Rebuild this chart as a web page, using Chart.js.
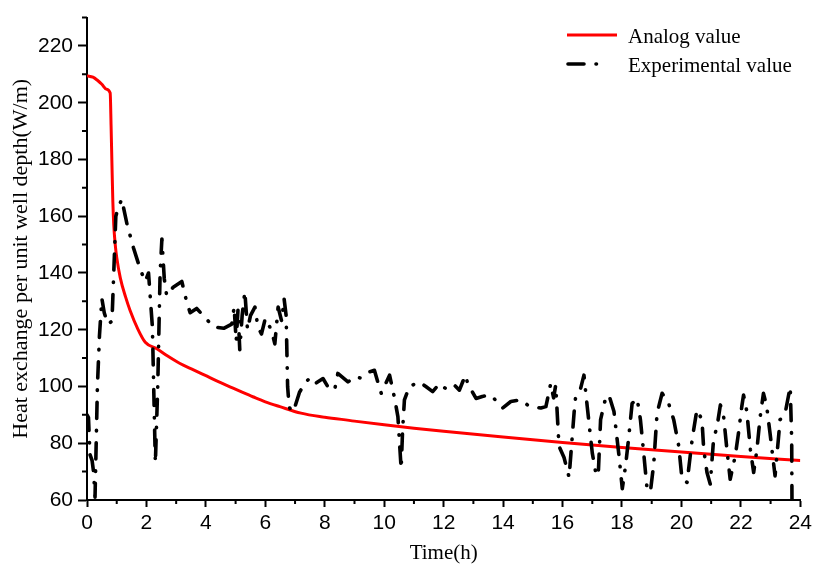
<!DOCTYPE html>
<html>
<head>
<meta charset="utf-8">
<script src="https://cdn.jsdelivr.net/npm/chart.js@4.4.1/dist/chart.umd.min.js"></script>
<style>
  html, body { margin: 0; padding: 0; background: #fff; }
  #wrap { width: 816px; height: 565px; position: relative; }
</style>
</head>
<body>
<div id="wrap"><canvas id="c" width="816" height="565"></canvas></div>
<script>
// Simulated heat exchange (W/m) over time (h)
const analogTime  = [0, 0.2, 0.34, 0.5, 0.65, 0.78, 0.81, 0.84, 0.87, 0.9, 0.95, 1.0, 1.12, 1.3, 1.45, 1.7, 1.96, 2.35, 2.7, 3.13, 3.6, 4.0, 4.4, 4.81, 5.2, 5.6, 6.0, 6.49, 7.2, 7.83, 8.0, 9, 10, 11, 12, 14, 16, 18, 20, 22, 24];
const analogValue = [209.5, 209, 208, 206.5, 204.8, 203.4, 192, 178, 165, 157, 150, 145.5, 138.3, 131.5, 126.8, 120.5, 115.6, 113.3, 110.8, 108.1, 105.8, 103.8, 101.8, 99.9, 98.1, 96.3, 94.6, 92.9, 90.6, 89.4, 89.2, 87.8, 86.5, 85.3, 84.2, 82.2, 80.3, 78.5, 76.9, 75.3, 73.9];

// Measured heat exchange (W/m) over time (h)
const expTime = [0, 0.05, 0.1, 0.17, 0.22, 0.27, 0.35, 0.42, 0.5, 0.58, 0.7, 0.84, 0.9, 0.97, 1.05, 1.17, 1.35, 1.56, 1.8, 1.96, 2.07, 2.2, 2.3, 2.38, 2.46, 2.52, 2.6, 2.68, 2.9, 3.19, 3.35, 3.47, 3.69, 4.0, 4.25, 4.6, 4.87, 4.95, 5.02, 5.08, 5.14, 5.22, 5.31, 5.4, 5.5, 5.65, 5.75, 5.87, 6.0, 6.15, 6.25, 6.32, 6.43, 6.55, 6.63, 6.7, 6.75, 6.8, 6.88, 7.0, 7.15, 7.33, 7.45, 7.6, 7.94, 8.1, 8.33, 8.44, 8.78, 9.0, 9.2, 9.45, 9.67, 9.8, 9.9, 10.18, 10.35, 10.46, 10.57, 10.62, 10.68, 10.85, 11.18, 11.4, 11.63, 11.86, 12.1, 12.36, 12.53, 12.73, 12.81, 13.09, 13.3, 13.59, 13.98, 14.26, 14.6, 14.82, 15.05, 15.27, 15.44, 15.6, 15.7, 15.77, 15.88, 16.05, 16.22, 16.39, 16.44, 16.6, 16.72, 16.83, 17.0, 17.11, 17.2, 17.28, 17.45, 17.56, 17.73, 17.9, 18.01, 18.12, 18.23, 18.34, 18.51, 18.62, 18.74, 18.85, 18.96, 19.07, 19.18, 19.35, 19.57, 19.74, 19.91, 20.02, 20.19, 20.36, 20.52, 20.69, 20.75, 20.86, 20.97, 21.08, 21.2, 21.31, 21.42, 21.53, 21.64, 21.81, 21.92, 22.03, 22.09, 22.2, 22.32, 22.43, 22.54, 22.65, 22.76, 22.87, 22.98, 23.15, 23.26, 23.32, 23.49, 23.66, 23.71, 23.72];
const expValue = [90, 89, 76, 74, 70, 61, 100, 118, 131, 126, 122, 123, 140, 160, 163, 166, 157, 149, 141, 137, 140, 121, 73, 100, 140, 152, 138, 132, 135, 137, 130, 126, 127.5, 124, 121, 120.5, 122, 128, 116, 127, 113, 125, 133.5, 120, 125, 128, 121, 118.5, 124, 121, 118, 115, 128, 123, 131, 125, 100, 93, 91, 93, 98, 101, 102.5, 100.5, 102.8, 100, 98.7, 104.6, 101.6, 103.4, 103, 105, 105.7, 101, 97.6, 104, 95.8, 89.4, 71, 85, 95.3, 100, 101.6, 100, 98.2, 101, 99, 100.5, 98.7, 104, 101, 95.8, 96.5, 97, 92.4, 94.7, 95.3, 93.5, 92.8, 92.4, 92.9, 101, 96, 100.5, 79, 75, 68, 91, 96.4, 99, 104, 93, 76.6, 70, 68.5, 88.3, 96, 97, 91.2, 75.5, 64, 72, 82.4, 94, 95.8, 88.3, 75.5, 63.2, 63.2, 73, 90.6, 97.6, 94, 88.3, 79, 67.3, 66.2, 81.3, 91.8, 88.3, 77.8, 69.7, 65.6, 81.3, 86, 93.5, 89.4, 77.8, 67.3, 75.5, 83.6, 92.9, 97, 91.2, 77.8, 69.7, 77.8, 89.4, 97.6, 92.9, 83.6, 68.5, 81.3, 88.3, 90.6, 99.9, 81, 58];

// Axis ticks
const xTicks = [0, 2, 4, 6, 8, 10, 12, 14, 16, 18, 20, 22, 24];
const yTicks = [60, 80, 100, 120, 140, 160, 180, 200, 220];
const xMinor = [1, 3, 5, 7, 9, 11, 13, 15, 17, 19, 21, 23];
const yMinor = [70, 90, 110, 130, 150, 170, 190, 210, 230];

const seriesNames = ['Analog value', 'Experimental value'];
const axisTitles = { x: 'Time(h)', y: 'Heat exchange per unit well depth(W/m)' };

const toPoints = (xs, ys) => xs.map((x, i) => ({ x: x, y: ys[i] }));

const SERIF = "'Liberation Serif', 'Times New Roman', serif";
const SANS = "'Liberation Sans', Arial, sans-serif";

// Short minor tick marks along both axes
const minorTicks = {
  id: 'minorTicks',
  afterDraw(chart) {
    const ctx = chart.ctx;
    const xs = chart.scales.x, ys = chart.scales.y;
    ctx.save();
    ctx.strokeStyle = '#000';
    ctx.lineWidth = 2;
    ctx.beginPath();
    xMinor.forEach(v => {
      const px = xs.getPixelForValue(v);
      ctx.moveTo(px, xs.top);
      ctx.lineTo(px, xs.top + 4);
    });
    yMinor.forEach(v => {
      const py = ys.getPixelForValue(v);
      ctx.moveTo(ys.right, py);
      ctx.lineTo(ys.right - 5, py);
    });
    ctx.stroke();
    ctx.restore();
  }
};

// Legend with line samples using each dataset's own stroke style
const lineLegend = {
  id: 'lineLegend',
  afterDraw(chart) {
    const ctx = chart.ctx;
    const samples = [[567, 617], [568, 597]];
    const textX = 628;
    const rows = [35, 64];
    ctx.save();
    chart.data.datasets.forEach((ds, i) => {
      const y = rows[i];
      ctx.beginPath();
      ctx.strokeStyle = ds.borderColor;
      ctx.lineWidth = ds.borderWidth;
      ctx.lineCap = ds.borderCapStyle || 'butt';
      ctx.setLineDash(ds.borderDash || []);
      ctx.moveTo(samples[i][0], y);
      ctx.lineTo(samples[i][1], y);
      ctx.stroke();
      ctx.setLineDash([]);
      ctx.fillStyle = '#000';
      ctx.font = "21px " + SERIF;
      ctx.textBaseline = 'middle';
      ctx.textAlign = 'left';
      ctx.fillText(ds.label, textX, y + 2);
    });
    ctx.restore();
  }
};

new Chart(document.getElementById('c'), {
  type: 'line',
  data: {
    datasets: [
      {
        label: seriesNames[0],
        data: toPoints(analogTime, analogValue),
        borderColor: '#ff0000',
        borderWidth: 3,
        pointRadius: 0,
        cubicInterpolationMode: 'monotone',
        fill: false,
        order: 2,
        borderCapStyle: 'butt',
        borderJoinStyle: 'round'
      },
      {
        label: seriesNames[1],
        data: toPoints(expTime, expValue),
        borderColor: '#000000',
        borderWidth: 3.6,
        borderDash: [16, 12, 0.5, 12],
        borderCapStyle: 'round',
        borderJoinStyle: 'round',
        pointRadius: 0,
        tension: 0,
        fill: false,
        order: 1
      }
    ]
  },
  options: {
    responsive: false,
    animation: false,
    events: [],
    layout: { padding: { top: 14, right: 13, left: 0, bottom: 0 } },
    plugins: {
      legend: { display: false },
      tooltip: { enabled: false }
    },
    scales: {
      x: {
        type: 'linear',
        min: 0,
        max: 24,
        afterBuildTicks: s => { s.ticks = xTicks.map(v => ({ value: v })); },
        afterFit: s => { s.height = 65; },
        ticks: {
          color: '#000',
          font: { family: SANS, size: 21 },
          padding: 4,
          maxRotation: 0
        },
        grid: {
          display: true,
          drawOnChartArea: false,
          drawTicks: true,
          tickLength: 7,
          tickWidth: 2,
          tickColor: '#000'
        },
        border: { display: true, color: '#000', width: 2 },
        title: {
          display: true,
          text: axisTitles.x,
          color: '#000',
          font: { family: SERIF, size: 21 },
          padding: { top: 0, bottom: -1 }
        }
      },
      y: {
        type: 'linear',
        min: 60,
        max: 230,
        afterBuildTicks: s => { s.ticks = yTicks.map(v => ({ value: v })); },
        afterFit: s => { s.width = 87; },
        ticks: {
          color: '#000',
          font: { family: SANS, size: 21 },
          padding: 5
        },
        grid: {
          display: true,
          drawOnChartArea: false,
          drawTicks: true,
          tickLength: 9,
          tickWidth: 2,
          tickColor: '#000'
        },
        border: { display: true, color: '#000', width: 2 },
        title: {
          display: true,
          text: axisTitles.y,
          color: '#000',
          font: { family: SERIF, size: 22 },
          padding: { top: 8, bottom: 0 }
        }
      }
    }
  },
  plugins: [minorTicks, lineLegend]
});
</script>
</body>
</html>
